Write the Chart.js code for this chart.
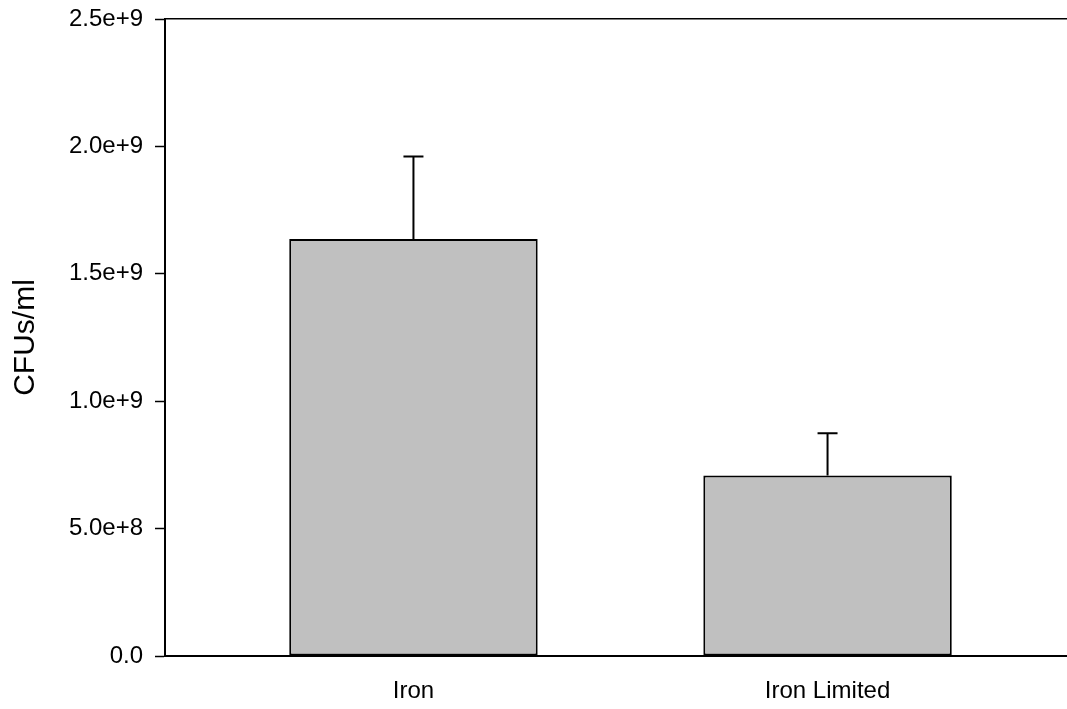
<!DOCTYPE html>
<html lang="en">
<head>
    <meta charset="UTF-8">
    <title>CFUs/ml</title>
    <script src="https://cdn.jsdelivr.net/npm/chart.js"></script>
    <style>
        html, body { margin: 0; padding: 0; background: white; overflow: hidden; }
        #chart-container { width: 1090px; height: 709px; position: relative; }
    </style>
</head>
<body>
    <div id="chart-container">
        <canvas id="cfuChart"></canvas>
    </div>

    <script>
        const categories = ["Iron", "Iron Limited"];
        const cfuValues = [1.637e9, 7.08e8];
        const cfuErrors = [3.23e8, 1.66e8];
        const yTicks = [0, 5e8, 1e9, 1.5e9, 2e9, 2.5e9];

        const fontFamily = 'Arial, "Liberation Sans", sans-serif';

        function yLabel(v) {
            return v === 0 ? "0.0" : v.toExponential(1);
        }

        // error bars (upper only) drawn from the data through the scales
        const errorBars = {
            id: "errorBars",
            afterDatasetsDraw(chart) {
                const ctx = chart.ctx;
                const meta = chart.getDatasetMeta(0);
                const yScale = chart.scales.y;
                ctx.save();
                ctx.strokeStyle = "#000";
                ctx.lineWidth = 2;
                meta.data.forEach((bar, i) => {
                    const x = bar.x;
                    const yTop = yScale.getPixelForValue(cfuValues[i]);
                    const yErr = yScale.getPixelForValue(cfuValues[i] + cfuErrors[i]);
                    ctx.beginPath();
                    ctx.moveTo(x, yTop);
                    ctx.lineTo(x, yErr);
                    ctx.moveTo(x - 10, yErr);
                    ctx.lineTo(x + 10, yErr);
                    ctx.stroke();
                });
                ctx.restore();
            }
        };

        const ctx = document.getElementById("cfuChart").getContext("2d");
        new Chart(ctx, {
            type: "bar",
            data: {
                datasets: [{
                    data: cfuValues.map((v, i) => ({ x: i + 1, y: v })),
                    backgroundColor: "#c0c0c0",
                    borderColor: "#000",
                    borderWidth: 2,
                    borderSkipped: false,
                    barPercentage: 0.6,
                    categoryPercentage: 1.0
                }]
            },
            options: {
                responsive: true,
                maintainAspectRatio: false,
                animation: false,
                layout: { padding: { top: 19, right: 14, left: 0, bottom: 0 } },
                plugins: {
                    legend: { display: false },
                    tooltip: { enabled: false }
                },
                scales: {
                    x: {
                        type: "linear",
                        position: "bottom",
                        offset: false,
                        min: 0.4,
                        max: 2.6,
                        afterBuildTicks: s => { s.ticks = categories.map((c, i) => ({ value: i + 1 })); },
                        afterFit: s => { s.height = 53; },
                        ticks: {
                            callback: v => categories[v - 1] ?? "",
                            color: "#000",
                            padding: 21,
                            font: { family: fontFamily, size: 24 }
                        },
                        grid: { drawOnChartArea: false, drawTicks: false, offset: false },
                        border: { color: "#000", width: 2 }
                    },
                    x2: {
                        type: "linear",
                        position: "top",
                        offset: false,
                        min: 0.4,
                        max: 2.6,
                        ticks: { display: false },
                        grid: { drawOnChartArea: false, drawTicks: false, offset: false },
                        border: { color: "#000", width: 1.5 }
                    },
                    y: {
                        min: 0,
                        max: 2.5e9,
                        afterBuildTicks: s => { s.ticks = yTicks.map(v => ({ value: v })); },
                        afterFit: s => { s.width = 165; s.paddingTop = 0; s.paddingBottom = 0; },
                        ticks: {
                            callback: v => yLabel(v),
                            color: "#000",
                            padding: 12,
                            font: { family: fontFamily, size: 24 }
                        },
                        grid: {
                            drawOnChartArea: false,
                            drawTicks: true,
                            tickLength: 10,
                            tickColor: "#000",
                            tickWidth: 1.5
                        },
                        border: { color: "#000", width: 2 },
                        title: {
                            display: true,
                            text: "CFUs/ml",
                            color: "#000",
                            padding: { top: 8, bottom: 0 },
                            font: { family: fontFamily, size: 30 }
                        }
                    }
                }
            },
            plugins: [errorBars]
        });
    </script>
</body>
</html>
